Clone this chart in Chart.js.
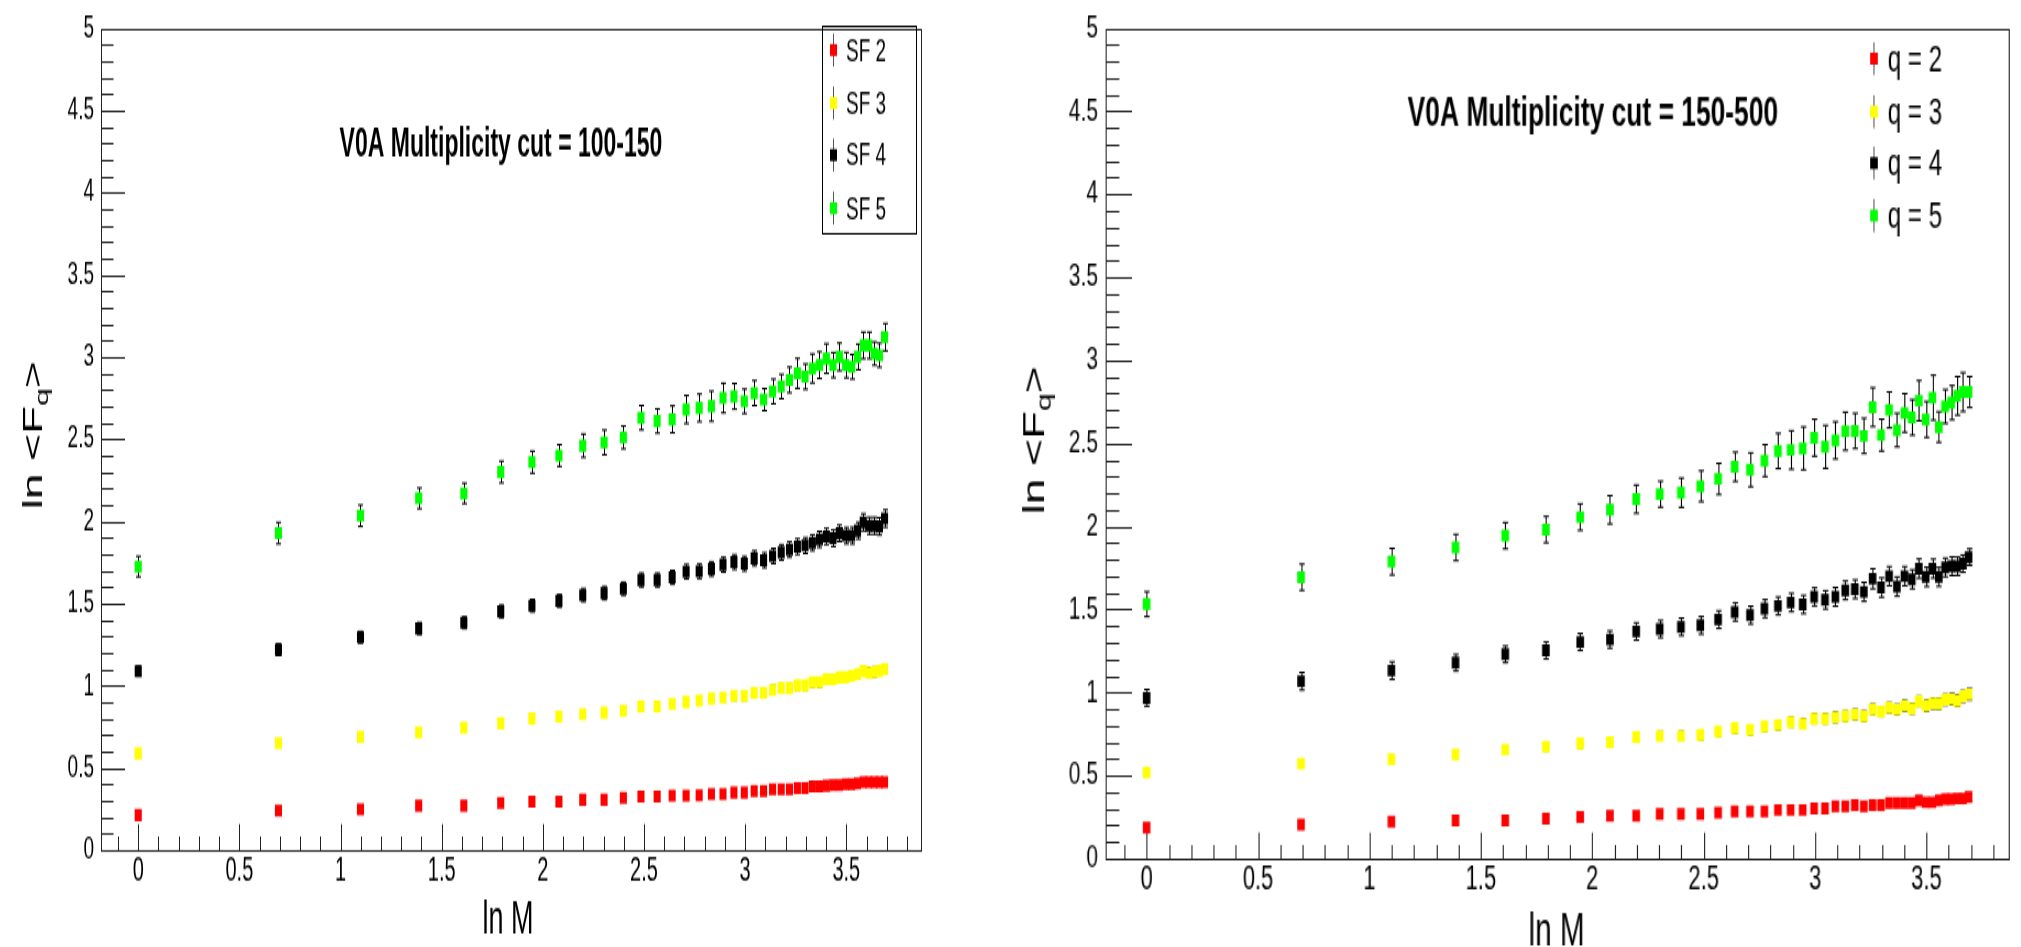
<!DOCTYPE html>
<html>
<head>
<meta charset="utf-8">
<script src="https://cdn.jsdelivr.net/npm/chart.js@4.4.1/dist/chart.umd.min.js"></script>
<style>
  body { margin: 0; background: #fff; width: 2021px; height: 947px; overflow: hidden; position: relative; }
  .pad { position: absolute; top: 0; transform-origin: 0 0; }
  canvas { display: block; }
</style>
</head>
<body>
<div class="pad" style="left:0; transform:scale(1, 1.7002)"><canvas id="canvasL" width="1000" height="557"></canvas></div>
<div class="pad" style="left:1000px; transform:scale(1.1, 1.7002)"><canvas id="canvasR" width="928" height="557"></canvas></div>
<script>
// ln M, M = 1..40
const lnM = [0, 0.6931, 1.0986, 1.3863, 1.6094, 1.7918, 1.9459, 2.0794, 2.1972, 2.3026,
    2.3979, 2.4849, 2.5649, 2.6391, 2.7081, 2.7726, 2.8332, 2.8904, 2.9444, 2.9957,
    3.0445, 3.0910, 3.1355, 3.1781, 3.2189, 3.2581, 3.2958, 3.3322, 3.3673, 3.4012,
    3.4340, 3.4657, 3.4965, 3.5264, 3.5553, 3.5835, 3.6109, 3.6376, 3.6636, 3.6889]

const coresSeries = ['#ff0000', '#ffff00', '#000000', '#00ff00']

// painel esquerdo: V0A 100-150
const labelsEsquerda = ['SF 2', 'SF 3', 'SF 4', 'SF 5']
const sf2 = [0.213, 0.241, 0.249, 0.270, 0.270, 0.287, 0.295, 0.295, 0.306, 0.306,
    0.318, 0.325, 0.325, 0.331, 0.331, 0.333, 0.341, 0.341, 0.350, 0.350,
    0.359, 0.359, 0.369, 0.369, 0.369, 0.378, 0.378, 0.387, 0.387, 0.392,
    0.396, 0.396, 0.401, 0.401, 0.405, 0.414, 0.414, 0.414, 0.414, 0.414]
const sf3 = [0.588, 0.652, 0.689, 0.717, 0.744, 0.772, 0.800, 0.811, 0.827, 0.836,
    0.848, 0.873, 0.873, 0.889, 0.901, 0.910, 0.922, 0.929, 0.938, 0.938,
    0.956, 0.956, 0.975, 0.986, 0.986, 1.002, 1.002, 1.021, 1.021, 1.039,
    1.039, 1.051, 1.051, 1.060, 1.071, 1.090, 1.078, 1.084, 1.090, 1.102]
const sf4 = [1.089, 1.219, 1.295, 1.348, 1.383, 1.452, 1.487, 1.516, 1.551, 1.563,
    1.590, 1.643, 1.643, 1.659, 1.694, 1.696, 1.710, 1.736, 1.752, 1.742,
    1.775, 1.763, 1.789, 1.811, 1.828, 1.846, 1.853, 1.869, 1.890, 1.908,
    1.897, 1.927, 1.913, 1.913, 1.943, 1.994, 1.973, 1.973, 1.969, 2.017]
const sf5 = [1.725, 1.928, 2.034, 2.14, 2.17, 2.30, 2.36, 2.40, 2.46, 2.48,
    2.51, 2.63, 2.61, 2.62, 2.68, 2.69, 2.70, 2.75, 2.76, 2.73,
    2.78, 2.74, 2.79, 2.82, 2.86, 2.90, 2.88, 2.93, 2.95, 2.99,
    2.95, 3.00, 2.95, 2.94, 3.00, 3.07, 3.07, 3.02, 3.01, 3.12]
const errSf2 = [0.010, 0.010, 0.010, 0.011, 0.011, 0.011, 0.012, 0.012, 0.012, 0.012,
    0.013, 0.013, 0.013, 0.013, 0.014, 0.014, 0.014, 0.014, 0.015, 0.015,
    0.015, 0.015, 0.015, 0.016, 0.016, 0.016, 0.016, 0.016, 0.017, 0.017,
    0.017, 0.017, 0.017, 0.018, 0.018, 0.018, 0.018, 0.018, 0.018, 0.019]
const errSf3 = [0.018, 0.019, 0.019, 0.020, 0.020, 0.021, 0.021, 0.022, 0.022, 0.022,
    0.023, 0.023, 0.023, 0.024, 0.024, 0.024, 0.025, 0.025, 0.025, 0.025,
    0.026, 0.026, 0.026, 0.026, 0.027, 0.027, 0.027, 0.027, 0.028, 0.028,
    0.028, 0.028, 0.028, 0.029, 0.029, 0.029, 0.029, 0.029, 0.030, 0.030]
const errSf4 = [0.030, 0.035, 0.035, 0.036, 0.036, 0.038, 0.038, 0.038, 0.040, 0.040,
    0.040, 0.042, 0.042, 0.042, 0.044, 0.044, 0.044, 0.045, 0.045, 0.045,
    0.046, 0.046, 0.046, 0.047, 0.047, 0.048, 0.048, 0.048, 0.049, 0.049,
    0.050, 0.050, 0.050, 0.051, 0.051, 0.052, 0.052, 0.052, 0.053, 0.053]
const errSf5 = [0.062, 0.065, 0.065, 0.063, 0.062, 0.066, 0.067, 0.066, 0.071, 0.075,
    0.069, 0.074, 0.074, 0.082, 0.085, 0.084, 0.092, 0.090, 0.078, 0.074,
    0.076, 0.067, 0.075, 0.074, 0.078, 0.091, 0.077, 0.088, 0.081, 0.090,
    0.076, 0.084, 0.077, 0.075, 0.078, 0.081, 0.081, 0.071, 0.073, 0.083]

// painel direito: V0A 150-500
const labelsDireita = ['q = 2', 'q = 3', 'q = 4', 'q = 5']
const q2 = [0.186, 0.204, 0.222, 0.231, 0.231, 0.240, 0.250, 0.259, 0.259, 0.268,
    0.268, 0.268, 0.277, 0.284, 0.284, 0.284, 0.293, 0.293, 0.293, 0.302,
    0.302, 0.314, 0.314, 0.323, 0.314, 0.323, 0.323, 0.335, 0.335, 0.335,
    0.335, 0.350, 0.339, 0.339, 0.350, 0.358, 0.358, 0.362, 0.362, 0.371]
const q3 = [0.518, 0.572, 0.598, 0.626, 0.656, 0.674, 0.693, 0.702, 0.732, 0.738,
    0.738, 0.745, 0.766, 0.785, 0.775, 0.796, 0.805, 0.821, 0.812, 0.842,
    0.842, 0.851, 0.858, 0.869, 0.858, 0.899, 0.885, 0.908, 0.897, 0.920,
    0.904, 0.947, 0.920, 0.934, 0.934, 0.957, 0.961, 0.950, 0.977, 0.989]
const q4 = [0.968, 1.068, 1.132, 1.179, 1.230, 1.253, 1.304, 1.319, 1.368, 1.382,
    1.395, 1.404, 1.439, 1.485, 1.466, 1.505, 1.521, 1.542, 1.530, 1.576,
    1.558, 1.576, 1.615, 1.622, 1.606, 1.685, 1.632, 1.700, 1.638, 1.700,
    1.682, 1.746, 1.696, 1.746, 1.696, 1.753, 1.760, 1.760, 1.776, 1.815]
const q5 = [1.532, 1.694, 1.788, 1.873, 1.944, 1.981, 2.056, 2.100, 2.164, 2.194,
    2.203, 2.242, 2.286, 2.359, 2.341, 2.396, 2.454, 2.460, 2.470, 2.534,
    2.479, 2.518, 2.573, 2.575, 2.545, 2.718, 2.550, 2.701, 2.580, 2.683,
    2.656, 2.757, 2.644, 2.775, 2.598, 2.722, 2.745, 2.786, 2.809, 2.809]
const errQ2 = [0.012, 0.012, 0.012, 0.013, 0.013, 0.013, 0.014, 0.014, 0.014, 0.014,
    0.015, 0.015, 0.015, 0.015, 0.016, 0.016, 0.016, 0.016, 0.017, 0.017,
    0.017, 0.017, 0.017, 0.018, 0.018, 0.018, 0.018, 0.018, 0.019, 0.019,
    0.019, 0.019, 0.019, 0.020, 0.020, 0.020, 0.020, 0.020, 0.020, 0.021]
const errQ3 = [0.022, 0.023, 0.023, 0.024, 0.024, 0.025, 0.025, 0.026, 0.026, 0.026,
    0.027, 0.027, 0.027, 0.028, 0.028, 0.028, 0.029, 0.029, 0.029, 0.029,
    0.030, 0.030, 0.030, 0.030, 0.031, 0.031, 0.031, 0.031, 0.032, 0.032,
    0.032, 0.032, 0.032, 0.033, 0.033, 0.033, 0.033, 0.033, 0.034, 0.034]
const errQ4 = [0.050, 0.053, 0.053, 0.050, 0.050, 0.051, 0.051, 0.052, 0.052, 0.052,
    0.053, 0.053, 0.053, 0.054, 0.054, 0.054, 0.054, 0.055, 0.055, 0.054,
    0.055, 0.056, 0.056, 0.056, 0.057, 0.060, 0.058, 0.058, 0.058, 0.058,
    0.057, 0.058, 0.058, 0.057, 0.057, 0.056, 0.056, 0.055, 0.052, 0.050]
const errQ5 = [0.075, 0.079, 0.080, 0.079, 0.079, 0.079, 0.080, 0.085, 0.085, 0.078,
    0.088, 0.093, 0.094, 0.088, 0.102, 0.096, 0.106, 0.116, 0.129, 0.111,
    0.129, 0.112, 0.115, 0.106, 0.106, 0.117, 0.096, 0.108, 0.101, 0.116,
    0.107, 0.121, 0.108, 0.135, 0.092, 0.102, 0.103, 0.116, 0.117, 0.093]

const fonte = '"Liberation Sans", Arial, Helvetica, sans-serif'

// moldura, ticks para dentro, barras de erro, titulos e legenda no estilo ROOT
const molduraRoot = {
    id: 'molduraRoot',
    beforeDatasetsDraw(chart, args, opts) {
        const ctx = chart.ctx
        const a = chart.chartArea
        const xs = chart.scales.x
        const ys = chart.scales.y
        ctx.save()
        ctx.strokeStyle = '#222'
        ctx.lineWidth = 1
        ctx.strokeRect(Math.round(a.left) + 0.5, Math.round(a.top) + 0.5, Math.round(a.right - a.left) - 1, Math.round(a.bottom - a.top) - 1)

        ctx.beginPath()
        for (let k = -10; k <= 40; k++) {
            const v = k / 10
            if (v < xs.min || v > xs.max) continue
            const px = Math.round(xs.getPixelForValue(v)) + 0.5
            const len = k % 5 === 0 ? 15.3 : 8
            ctx.moveTo(px, a.bottom)
            ctx.lineTo(px, a.bottom - len)
        }
        for (let k = 1; k <= 50; k++) {
            const py = Math.round(ys.getPixelForValue(k / 10)) + 0.5
            const len = k % 5 === 0 ? 24 : 12.5
            ctx.moveTo(a.left, py)
            ctx.lineTo(a.left + len, py)
        }
        ctx.stroke()

        ctx.strokeStyle = '#000'
        chart.data.datasets.forEach((ds, i) => {
            const meta = chart.getDatasetMeta(i)
            ctx.beginPath()
            meta.data.forEach((pt, j) => {
                const y0 = ys.getPixelForValue(ds.data[j].y - ds.errors[j])
                const y1 = ys.getPixelForValue(ds.data[j].y + ds.errors[j])
                const x = Math.round(pt.x) + 0.5
                ctx.moveTo(x, y0)
                ctx.lineTo(x, y1)
                ctx.moveTo(x - 2.5, y0)
                ctx.lineTo(x + 2.5, y0)
                ctx.moveTo(x - 2.5, y1)
                ctx.lineTo(x + 2.5, y1)
            })
            ctx.stroke()
        })
        ctx.restore()
    },
    afterDraw(chart, args, opts) {
        const ctx = chart.ctx
        ctx.save()
        ctx.fillStyle = '#000'

        // titulo do painel
        ctx.font = `bold ${opts.tituloTamanho}px ${fonte}`
        ctx.textAlign = 'center'
        ctx.textBaseline = 'alphabetic'
        ctx.fillText(opts.titulo, opts.tituloX, opts.tituloY)

        // titulo do eixo x
        ctx.font = `27px ${fonte}`
        ctx.fillText('ln M', opts.eixoXx, opts.eixoXy)

        // titulo do eixo y: ln <F_q>
        ctx.translate(opts.eixoYx, opts.eixoYy)
        ctx.rotate(-Math.PI / 2)
        ctx.textAlign = 'left'
        const parte1 = 'ln <F'
        const parte3 = '>'
        ctx.font = `27px ${fonte}`
        const w1 = ctx.measureText(parte1).width
        const w3 = ctx.measureText(parte3).width
        ctx.font = `19px ${fonte}`
        const w2 = ctx.measureText('q').width
        let x0 = -(w1 + w2 + w3) / 2
        ctx.font = `27px ${fonte}`
        ctx.fillText(parte1, x0, 0)
        ctx.font = `19px ${fonte}`
        ctx.fillText('q', x0 + w1, 6)
        ctx.font = `27px ${fonte}`
        ctx.fillText(parte3, x0 + w1 + w2, 0)
        ctx.setTransform(1, 0, 0, 1, 0, 0)

        // legenda
        const lg = opts.legenda
        ctx.lineWidth = 1
        if (lg.caixa) {
            ctx.strokeStyle = '#000'
            ctx.strokeRect(lg.caixa[0] + 0.5, lg.caixa[1] + 0.5, lg.caixa[2], lg.caixa[3])
        }
        ctx.font = `${lg.tamanho}px ${fonte}`
        ctx.textAlign = 'left'
        ctx.textBaseline = 'middle'
        chart.data.datasets.forEach((ds, i) => {
            const y = lg.linhas[i]
            ctx.strokeStyle = '#555'
            ctx.beginPath()
            ctx.moveTo(lg.marcaX + 0.5, y - 9.7)
            ctx.lineTo(lg.marcaX + 0.5, y + 9.7)
            ctx.stroke()
            ctx.fillStyle = ds.backgroundColor
            ctx.fillRect(lg.marcaX - 3, y - 3.5, 7, 7)
            ctx.fillStyle = '#000'
            ctx.fillText(ds.label, lg.textoX, y + 1)
        })
        ctx.restore()
    }
}

function criarDatasets(labels, series, erros, raio) {
    return series.map((serie, i) => ({
        label: labels[i],
        data: serie.map((v, j) => ({ x: lnM[j], y: v })),
        errors: erros[i],
        backgroundColor: coresSeries[i],
        borderWidth: 0,
        pointStyle: 'rect',
        pointRadius: raio,
        pointHoverRadius: raio
    }))
}

function criarPainel(canvasId, datasets, larguraEixoY, alturaEixoX, padding, opcoesMoldura) {
    return new Chart(document.getElementById(canvasId), {
        type: 'scatter',
        data: { datasets: datasets },
        options: {
            responsive: false,
            animation: false,
            devicePixelRatio: 1,
            layout: { padding: padding },
            plugins: {
                legend: { display: false },
                tooltip: { enabled: false },
                molduraRoot: opcoesMoldura
            },
            scales: {
                x: {
                    type: 'linear',
                    min: -0.184,
                    max: 3.874,
                    afterFit: (s) => { s.height = alturaEixoX },
                    grid: { display: false, drawTicks: false },
                    border: { display: false },
                    ticks: {
                        stepSize: 0.5,
                        includeBounds: false,
                        autoSkip: false,
                        maxRotation: 0,
                        padding: 2,
                        color: '#000',
                        font: { family: fonte, size: 20, lineHeight: 1 },
                        callback: (v) => String(+v.toFixed(1))
                    }
                },
                y: {
                    type: 'linear',
                    min: 0,
                    max: 5,
                    afterFit: (s) => { s.width = larguraEixoY },
                    grid: { display: false, drawTicks: false },
                    border: { display: false },
                    ticks: {
                        stepSize: 0.5,
                        autoSkip: false,
                        padding: 7,
                        color: '#000',
                        font: { family: fonte, size: 19, lineHeight: 1 },
                        callback: (v) => String(+v.toFixed(1))
                    }
                }
            }
        },
        plugins: [molduraRoot]
    })
}

criarPainel('canvasL',
    criarDatasets(labelsEsquerda, [sf2, sf3, sf4, sf5], [errSf2, errSf3, errSf4, errSf5], 5),
    101, 57, { left: 0, top: 12, right: 78, bottom: 0 },
    {
        titulo: 'V0A Multiplicity cut = 100-150', tituloTamanho: 23, tituloX: 501, tituloY: 92,
        eixoXx: 508, eixoXy: 549, eixoYx: 42, eixoYy: 256,
        legenda: { caixa: [822, 15, 94, 122], marcaX: 833, textoX: 846, tamanho: 19, linhas: [29.4, 60.6, 91.2, 122.4] }
    })

criarPainel('canvasR',
    criarDatasets(labelsDireita, [q2, q3, q4, q5], [errQ2, errQ3, errQ4, errQ5], 4.9),
    96, 52, { left: 0, top: 13, right: 10, bottom: 0 },
    {
        titulo: 'V0A Multiplicity cut = 150-500', tituloTamanho: 24, tituloX: 539, tituloY: 74,
        eixoXx: 506, eixoXy: 556, eixoYx: 40, eixoYy: 259,
        legenda: { caixa: null, marcaX: 794, textoX: 807, tamanho: 22, linhas: [34.5, 65.7, 95.9, 126.8] }
    })
</script>
</body>
</html>
